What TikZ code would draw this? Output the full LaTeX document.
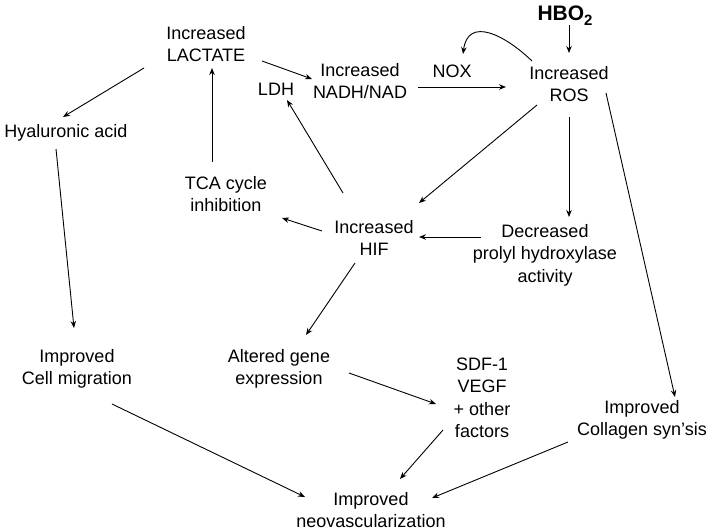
\documentclass[tikz,border=0pt]{standalone}
\usepackage{fontspec}
\setmainfont{Liberation Sans}
\usetikzlibrary{arrows.meta}
\begin{document}
\begin{tikzpicture}[x=1pt,y=-1pt,
  lbl/.style={inner sep=0pt, align=center, font=\fontsize{18}{22.5}\selectfont},
  arr/.style={draw, line width=0.9pt, -{Stealth[length=7pt,width=5.5pt]}}]
\useasboundingbox (0,0) rectangle (714,530);
\fill[white] (0,0) rectangle (714,530);
% nodes
\node[lbl] (lact) at (206,44) {Increased\\LACTATE};
\node[lbl] (nadh) at (360,81) {Increased\\NADH/NAD};
\node[lbl] (ldh) at (276,89) {LDH};
\node[lbl] (nox) at (452,71) {NOX};
\node[inner sep=0pt, font=\fontsize{21}{24}\selectfont\bfseries] (hbo) at (565,16) {HBO\raisebox{-5pt}{\fontsize{15}{15}\selectfont 2}};
\node[lbl] (ros) at (569,84) {Increased\\ROS};
\node[lbl] (hya) at (66,133) {Hyaluronic acid};
\node[lbl] (tca) at (226,194) {TCA cycle\\inhibition};
\node[lbl] (hif) at (374,238) {Increased\\HIF};
\node[lbl] (dec) at (545,255) {Decreased\\prolyl hydroxylase\\activity};
\node[lbl] (cell) at (77,369) {Improved\\Cell migration};
\node[lbl] (alt) at (279,369) {Altered gene\\expression};
\node[lbl] (sdf) at (482,398) {SDF-1\\VEGF\\+ other\\factors};
\node[lbl] (coll) at (642,420) {Improved\\Collagen syn’sis};
\node[lbl] (neo) at (371,510) {Improved\\neovascularization};
% connectors
\path[arr] ([shift={(-62,24)}]lact.center) -- ([shift={(-3,-16)}]hya.center);
\path[arr] ([shift={(-10,16)}]hya.center) -- ([shift={(-3,-41)}]cell.center);
\path[arr] ([shift={(-14,-32)}]tca.center) -- ([shift={(6,24)}]lact.center);
\path[arr] ([shift={(56,17)}]lact.center) -- ([shift={(-48,-2)}]nadh.center);
\path[arr] ([shift={(58,6)}]nadh.center) -- ([shift={(-63,3)}]ros.center);
\path[arr] ([shift={(-37,-23)}]ros.center) .. controls (505,35) and (468,16) .. ([shift={(11,-17)}]nox.center);
\path[arr] ([shift={(4,9)}]hbo.center) -- ([shift={(0,-31)}]ros.center);
\path[arr] ([shift={(-32,21)}]ros.center) -- ([shift={(45,-35)}]hif.center);
\path[arr] ([shift={(0,33)}]ros.center) -- ([shift={(24,-38)}]dec.center);
\path[arr] ([shift={(-64,-18)}]dec.center) -- ([shift={(45,-1)}]hif.center);
\path[arr] ([shift={(-31,-45)}]hif.center) -- ([shift={(11,11)}]ldh.center);
\path[arr] ([shift={(-52,-7)}]hif.center) -- ([shift={(56,24)}]tca.center);
\path[arr] ([shift={(-19,25)}]hif.center) -- ([shift={(27,-34)}]alt.center);
\path[arr] ([shift={(70,4)}]alt.center) -- ([shift={(-46,6)}]sdf.center);
\path[arr] ([shift={(-39,32)}]sdf.center) -- ([shift={(29,-31)}]neo.center);
\path[arr] ([shift={(35,35)}]cell.center) -- ([shift={(-66,-13)}]neo.center);
\path[arr] ([shift={(-74,22)}]coll.center) -- ([shift={(61,-12)}]neo.center);
\path[arr] ([shift={(37,9)}]ros.center) -- ([shift={(33,-23)}]coll.center);
\end{tikzpicture}
\end{document}
